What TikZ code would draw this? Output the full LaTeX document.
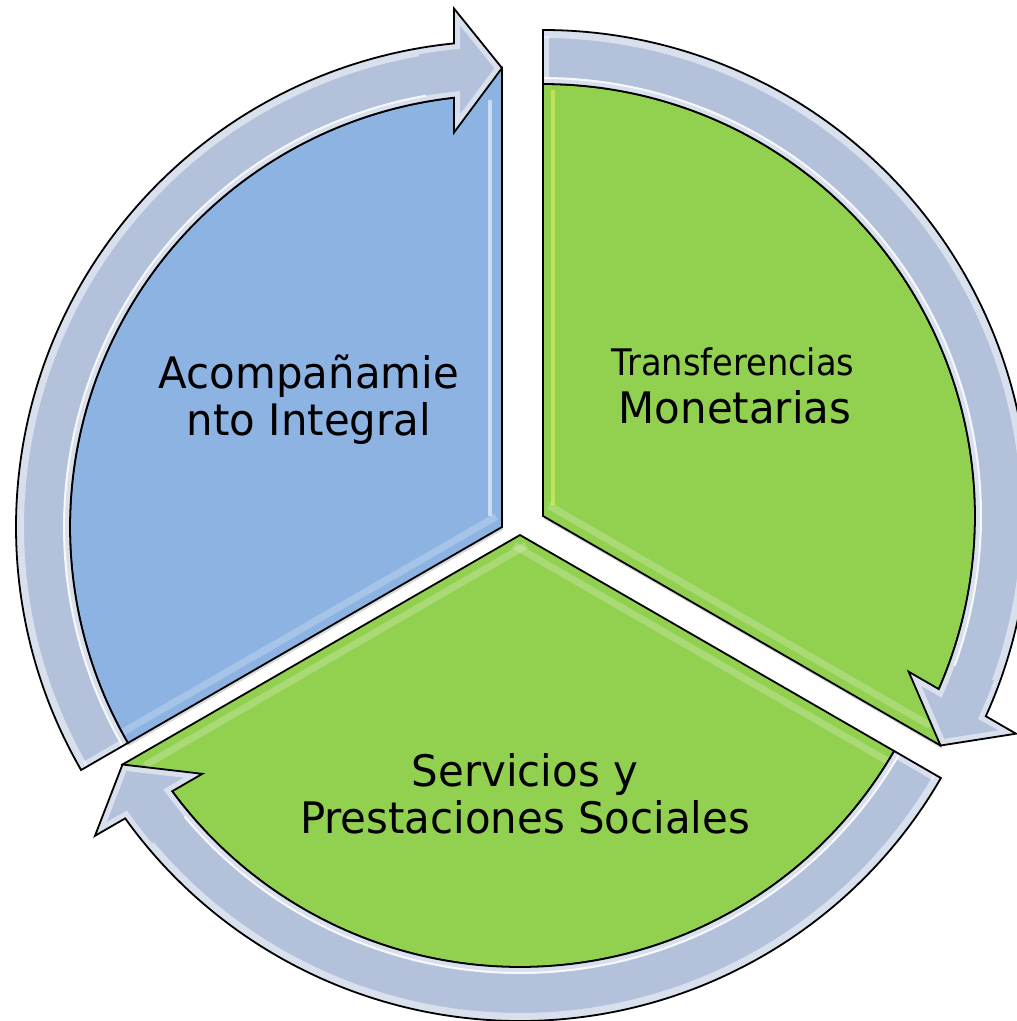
\documentclass[tikz,border=0pt]{standalone}
\usepackage{fontspec}
\setmainfont{DejaVu Sans}
\newfontfamily\segfont[FakeStretch=0.965]{DejaVu Sans}
\newfontfamily\segsmallfont[FakeStretch=0.92]{DejaVu Sans}
\definecolor{wblue}{RGB}{141,179,226}
\definecolor{wgreen}{RGB}{146,208,80}
\definecolor{afill}{RGB}{179,193,219}
\tikzset{
  segtext/.style={inner sep=0pt, anchor=base, text=black, font=\segfont\fontsize{43.4}{47}\selectfont},
  smalltext/.style={segtext, font=\segsmallfont\fontsize{36.6}{40}\selectfont},
  outline/.style={draw=black, line width=1.8pt, line join=miter},
  rim/.style={draw=white, line width=12pt, opacity=0.5},
  shine/.style={draw=white, line width=2pt, opacity=0.85},
  wshadow/.style={fill=black, opacity=0.15},
  gloss/.style={draw=white, line width=4pt, opacity=0.55},
  softgloss/.style={draw=white, line width=7pt, opacity=0.22},
}
\newcommand\segwedge{(0,0) -- (90:459) -- (96:432) arc[start angle=96,end angle=210,radius=432] -- cycle}
\newcommand\segarrow{(210:486) arc[start angle=210,end angle=95.67,radius=486] -- (-48,518.5) -- (0,459) -- (-48,394.5) -- (96.38:432) arc[start angle=96.38,end angle=210,radius=432] -- cycle}
\begin{document}
\begin{tikzpicture}[x=1pt,y=1pt]
\useasboundingbox (0,0) rectangle (1017,-1021);
% shadows of the segments
\foreach \cx/\cy/\rot in {502/527/0, 543/516/-120, 520/535/120}{
  \fill[wshadow, shift={({\cx+1},{-\cy-3})}, rotate=\rot] \segwedge;
}
% segments
\foreach \cx/\cy/\rot/\col in {502/527/0/wblue, 543/516/-120/wgreen, 520/535/120/wgreen}{
  \fill[\col, shift={(\cx,-\cy)}, rotate=\rot] \segwedge;
}
% gloss on the blue segment
\begin{scope}
  \clip[shift={(502,-527)}] \segwedge;
  \draw[gloss] (490,-100) -- (490,-516);
  \draw[softgloss, shift={(502,-527)}, shift={(120:12)}] (0,0) -- (210:440);
\end{scope}
% gloss on the right green segment
\begin{scope}
  \clip[shift={(543,-516)}, rotate=-120] \segwedge;
  \draw[gloss, draw=white!60!wgreen!50!yellow] (553,-90) -- (553,-505);
  \draw[softgloss, shift={(543,-516)}, shift={(60:12)}] (0,0) -- (-30:440);
\end{scope}
% gloss on the lower green segment
\begin{scope}
  \clip[shift={(520,-535)}, rotate=120] \segwedge;
  \draw[softgloss, shift={(520,-535)}, shift={(300:12)}] (0,0) -- (210:440);
  \draw[softgloss, shift={(520,-535)}, shift={(240:12)}] (0,0) -- (330:440);
\end{scope}
% segment outlines
\foreach \cx/\cy/\rot in {502/527/0, 543/516/-120, 520/535/120}{
  \draw[outline, shift={(\cx,-\cy)}, rotate=\rot] \segwedge;
}
% circular arrows
\foreach \cx/\cy/\rot in {502/527/0, 543/516/-120, 520/535/120}{
  \begin{scope}[shift={(\cx,-\cy)}, rotate=\rot]
    \fill[afill] \segarrow;
    \begin{scope}
      \clip \segarrow;
      \draw[rim] \segarrow;
      \draw[shine] (210:438) arc[start angle=210,end angle=100,radius=438];
      \draw[shine, opacity=0.5] (210:479) arc[start angle=210,end angle=100,radius=479];
    \end{scope}
    \draw[outline] \segarrow;
  \end{scope}
}
% texts
\node[segtext] (t1a) at (309,-388.3) {Acompañamie};
\node[segtext] (t1b) at (309,-435) {nto Integral};
\node[smalltext] (t2a) at (733,-375) {Transferencias};
\node[segtext] (t2b) at (735,-423.3) {Monetarias};
\node[segtext] (t3a) at (525,-786.7) {Servicios y};
\node[segtext] (t3b) at (525,-833.3) {Prestaciones Sociales};
\end{tikzpicture}
\end{document}
